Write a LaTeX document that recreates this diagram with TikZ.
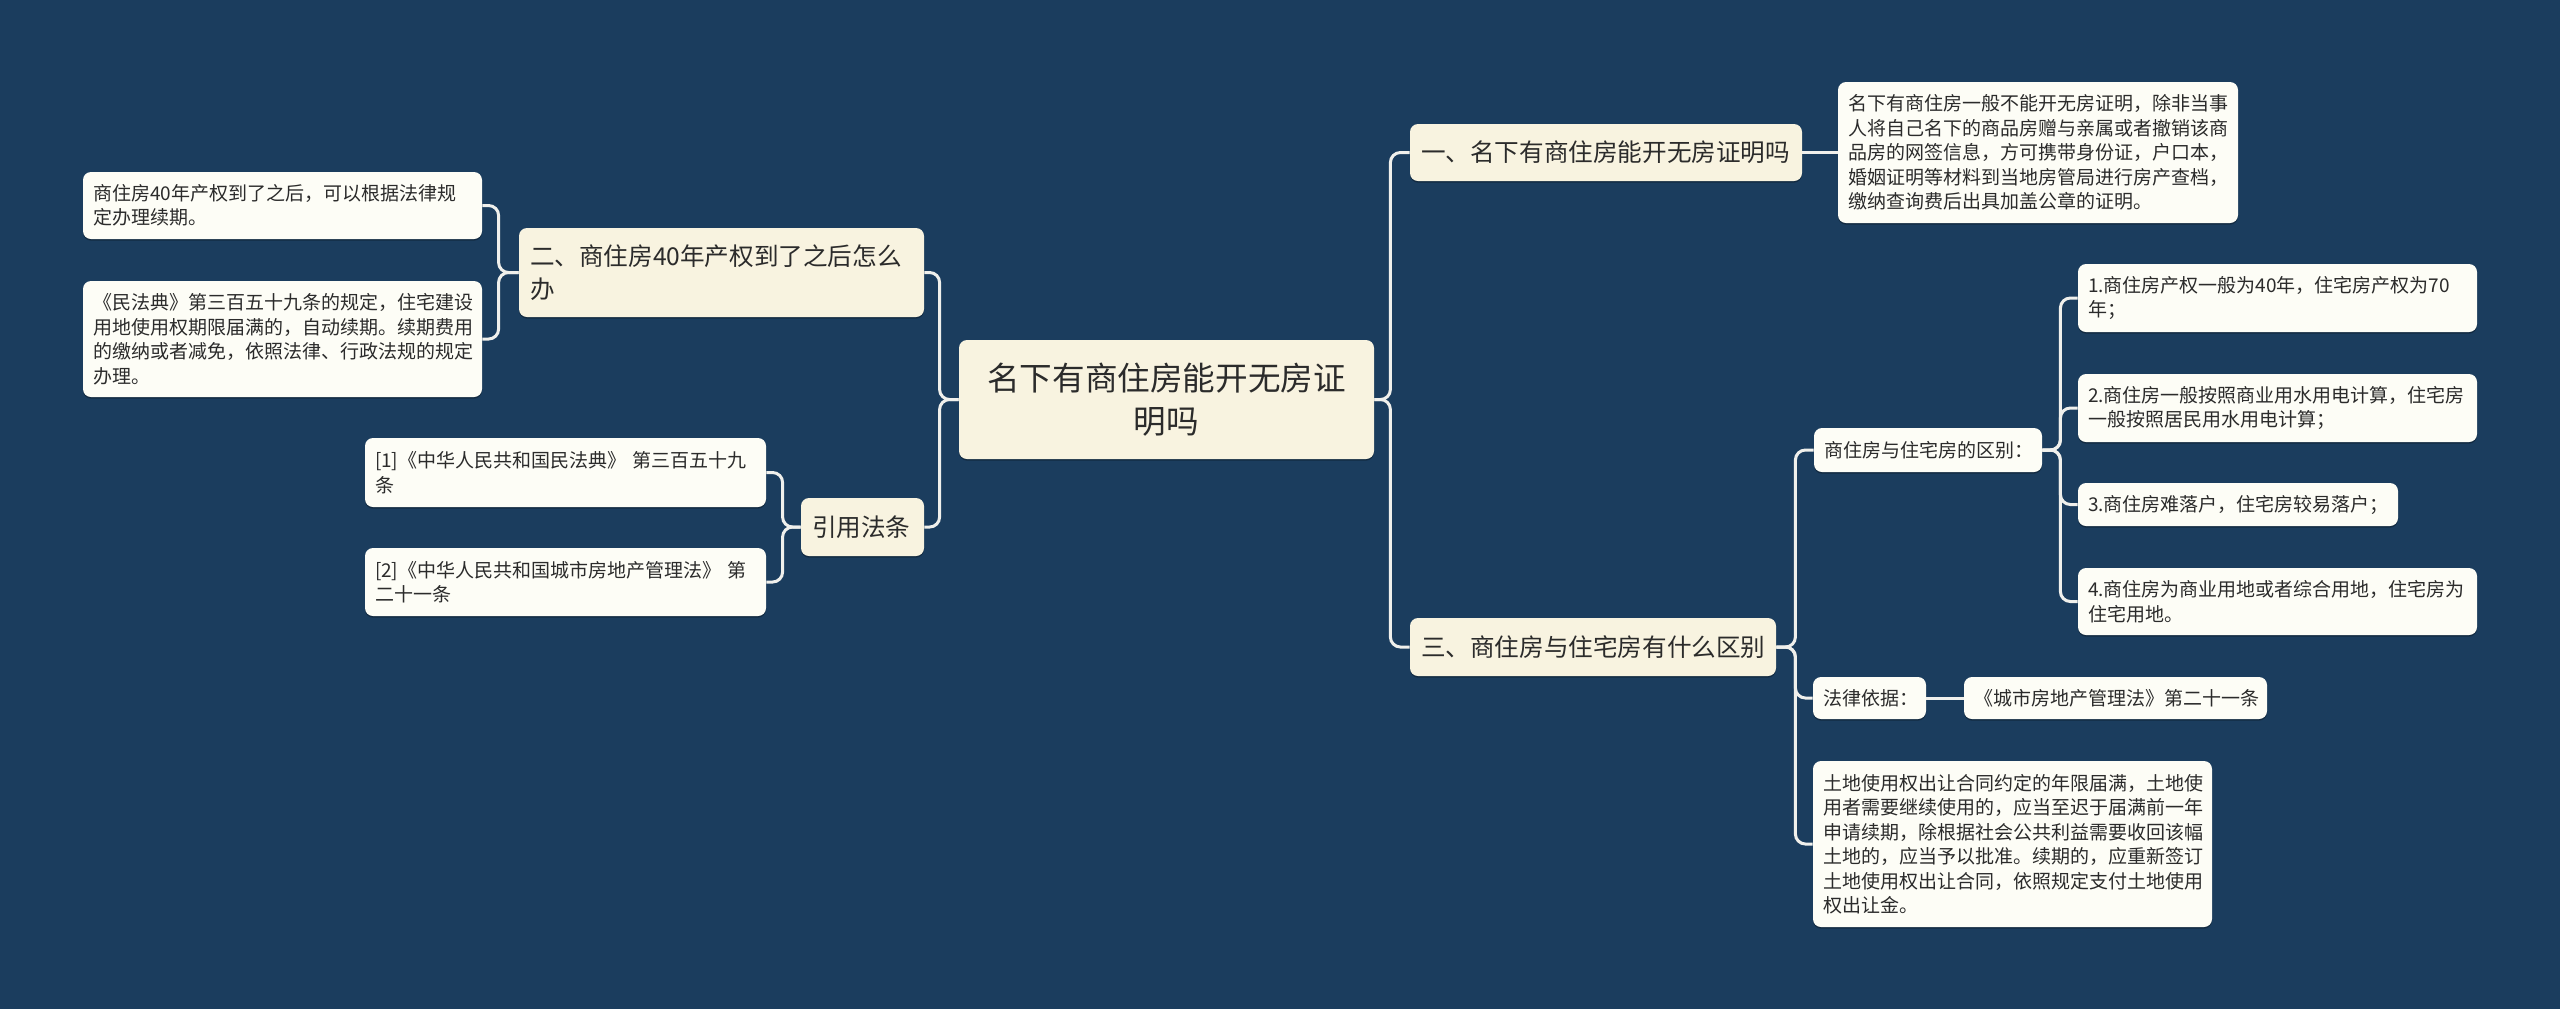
\documentclass[tikz,border=0pt]{standalone}
\usepackage{fontspec}
\newfontfamily\cjk{Noto Sans CJK SC}
\usetikzlibrary{shadows}
\definecolor{bgc}{HTML}{1B3D5E}
\definecolor{creamc}{HTML}{F8F3E0}
\definecolor{leafc}{HTML}{FDFDF6}
\definecolor{linec}{HTML}{F0F0EC}
\definecolor{txtc}{HTML}{2B2B2B}
\tikzset{
  box/.style={rounded corners=4pt, text=txtc, inner ysep=0pt,
    drop shadow={shadow xshift=0pt, shadow yshift=-0.8pt, opacity=0.3, fill=black}},
  rootbox/.style={box, fill=creamc, align=center, inner xsep=8.75pt,
    font=\cjk\fontsize{16.3}{21.5}\selectfont},
  topicbox/.style={box, fill=creamc, align=left, inner xsep=5.5pt,
    font=\cjk\fontsize{12.3}{16.5}\selectfont},
  leafbox/.style={box, fill=leafc, align=left, inner xsep=5pt,
    font=\cjk\fontsize{9.5}{12.25}\selectfont},
  conn/.style={draw=linec, line width=1.5pt, rounded corners=5pt}
}
\begin{document}
\begin{tikzpicture}[x=0.5pt,y=-0.5pt]
\fill[bgc] (0,0) rectangle (2560,1009);
\useasboundingbox (0,0) rectangle (2560,1009);

% root
\node[rootbox, text width=190pt, minimum height=59.5pt] (root) at (1166.5,399.5)
  {名下有商住房能开无房证\\明吗};

% left side
\node[topicbox, text width=191.5pt, minimum height=44.5pt] (t2) at (721.5,272.5)
  {二、商住房40年产权到了之后怎么\\办};
\node[topicbox, text width=50.5pt, minimum height=29pt] (cite) at (862.5,527)
  {引用法条};
\node[leafbox, text width=189.5pt, minimum height=33.5pt] (a1) at (282.5,205.5)
  {商住房40年产权到了之后，可以根据法律规\\定办理续期。};
\node[leafbox, text width=189.5pt, minimum height=58pt] (a2) at (282.5,339)
  {《民法典》第三百五十九条的规定，住宅建设\\用地使用权期限届满的，自动续期。续期费用\\的缴纳或者减免，依照法律、行政法规的规定\\办理。};
\node[leafbox, text width=190.5pt, minimum height=34.5pt] (c1) at (565.5,472.5)
  {[1]《中华人民共和国民法典》~第三百五十九\\条};
\node[leafbox, text width=190.5pt, minimum height=34pt] (c2) at (565.5,582)
  {[2]《中华人民共和国城市房地产管理法》~第\\二十一条};

% right side
\node[topicbox, text width=185pt, minimum height=28.5pt] (t1) at (1606,152.5)
  {一、名下有商住房能开无房证明吗};
\node[leafbox, text width=190pt, minimum height=70.5pt] (b1) at (2038,152.5)
  {名下有商住房一般不能开无房证明，除非当事\\人将自己名下的商品房赠与亲属或者撤销该商\\品房的网签信息，方可携带身份证，户口本，\\婚姻证明等材料到当地房管局进行房产查档，\\缴纳查询费后出具加盖公章的证明。};
\node[topicbox, text width=172pt, minimum height=29pt] (t3) at (1593,647)
  {三、商住房与住宅房有什么区别};
\node[leafbox, text width=104pt, minimum height=22pt] (diff) at (1928,450)
  {商住房与住宅房的区别：};
\node[leafbox, text width=189.5pt, minimum height=34pt] (d1) at (2277.5,298)
  {1.商住房产权一般为40年，住宅房产权为70\\年；};
\node[leafbox, text width=189.5pt, minimum height=34pt] (d2) at (2277.5,408)
  {2.商住房一般按照商业用水用电计算，住宅房\\一般按照居民用水用电计算；};
\node[leafbox, text width=150pt, minimum height=21.5pt] (d3) at (2238,504.5)
  {3.商住房难落户，住宅房较易落户；};
\node[leafbox, text width=189.5pt, minimum height=33.5pt] (d4) at (2277.5,601.5)
  {4.商住房为商业用地或者综合用地，住宅房为\\住宅用地。};
\node[leafbox, text width=46.5pt, minimum height=21pt] (law) at (1869.5,698)
  {法律依据：};
\node[leafbox, text width=141.5pt, minimum height=21pt] (lawref) at (2115.5,698)
  {《城市房地产管理法》第二十一条};
\node[leafbox, text width=189.5pt, minimum height=83pt] (land) at (2012.5,844)
  {土地使用权出让合同约定的年限届满，土地使\\用者需要继续使用的，应当至迟于届满前一年\\申请续期，除根据社会公共利益需要收回该幅\\土地的，应当予以批准。续期的，应重新签订\\土地使用权出让合同，依照规定支付土地使用\\权出让金。};

% connectors
\begin{scope}[on background layer/.try]
\end{scope}
\draw[conn] (root.west) -- ++(-19,0) |- (t2.east);
\draw[conn] (root.west) -- ++(-19,0) |- (cite.east);
\draw[conn] (t2.west) -- ++(-20,0) |- (a1.east);
\draw[conn] (t2.west) -- ++(-20,0) |- (a2.east);
\draw[conn] (cite.west) -- ++(-18,0) |- (c1.east);
\draw[conn] (cite.west) -- ++(-18,0) |- (c2.east);
\draw[conn] (root.east) -- ++(16,0) |- (t1.west);
\draw[conn] (root.east) -- ++(16,0) |- (t3.west);
\draw[conn] (t1.east) -- (b1.west);
\draw[conn] (t3.east) -- ++(19,0) |- (diff.west);
\draw[conn] (t3.east) -- ++(19,0) |- (law.west);
\draw[conn] (t3.east) -- ++(19,0) |- (land.west);
\draw[conn] (diff.east) -- ++(18,0) |- (d1.west);
\draw[conn] (diff.east) -- ++(18,0) |- (d2.west);
\draw[conn] (diff.east) -- ++(18,0) |- (d3.west);
\draw[conn] (diff.east) -- ++(18,0) |- (d4.west);
\draw[conn] (law.east) -- (lawref.west);
\end{tikzpicture}
\end{document}
